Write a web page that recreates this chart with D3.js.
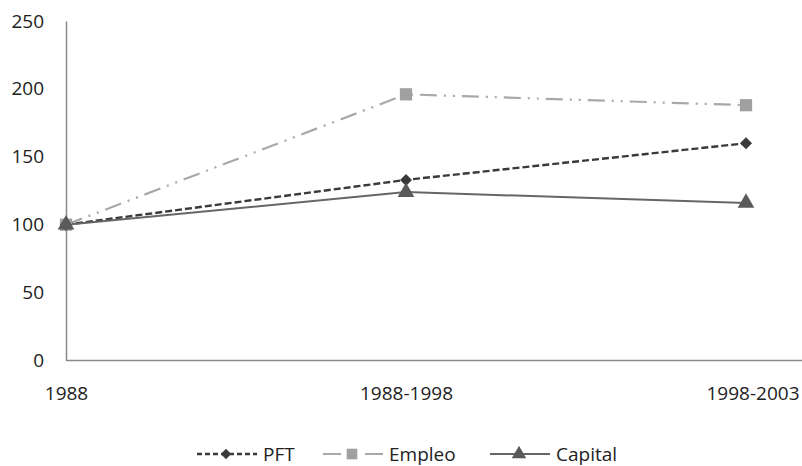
<!DOCTYPE html>
<html><head><meta charset="utf-8">
<script src="https://cdn.jsdelivr.net/npm/d3@7"></script>
<style>body{margin:0;background:#fff}svg{display:block}text{font-family:"Open Sans","Noto Sans",sans-serif;fill:#222}</style>
</head><body><svg id="c" width="802" height="466"></svg>
<script>
const categories = ["1988", "1988-1998", "1998-2003"];
const pft = [100, 133, 160];
const empleo = [100, 196, 188];
const capital = [100, 124, 116];
const yTicks = [0, 50, 100, 150, 200, 250];

const series = [
  {name: "PFT", values: pft, color: "#3a3a3a", marker: "diamond", dash: "7,3", width: 2.4, mcolor: "#3a3a3a", legDash: "5,3"},
  {name: "Empleo", values: empleo, color: "#a8a8a8", marker: "square", dash: "17,7,2,7,2,7", width: 2.2, mcolor: "#a0a0a0", legDash: "18,24,18"},
  {name: "Capital", values: capital, color: "#666666", marker: "triangle", dash: null, width: 2, mcolor: "#5a5a5a", legDash: null}
];

const svg = d3.select("#c");
const x = d3.scalePoint().domain(categories).range([66, 746]).padding(0);
const y = d3.scaleLinear().domain([0, 250]).range([360.5, 21]);

const symbolOf = {diamond: d3.symbolSquare, square: d3.symbolSquare, triangle: d3.symbolTriangle};
const sizeOf = {diamond: 72, square: 150, triangle: 120};
const rotOf = {diamond: 45, square: 0, triangle: 0};

// axes
const yAxis = svg.append("g").attr("transform", "translate(66,0)")
  .call(d3.axisLeft(y).tickValues(yTicks).tickSize(0).tickPadding(22));
yAxis.select(".domain").attr("stroke", "#8a8a8a").attr("stroke-width", 1.5);
yAxis.selectAll("text").attr("font-size", 19).style("fill", "#222");

const xAxis = svg.append("g").attr("transform", "translate(0,360.5)")
  .call(d3.axisBottom(x).tickSize(0).tickPadding(26));
xAxis.select(".domain").attr("stroke", "#8a8a8a").attr("stroke-width", 1.5).attr("d", "M66,0H802");
xAxis.selectAll("text").attr("font-size", 19).style("fill", "#222")
  .attr("text-anchor", (d, i) => i === categories.length - 1 ? "end" : "middle")
  .attr("dx", (d, i) => i === categories.length - 1 ? 53 : 0);

const line = d3.line().x((d, i) => x(categories[i])).y(d => y(d));

const order = [series[1], series[0], series[2]];
order.forEach(s => {
  svg.append("path").datum(s.values).attr("d", line)
    .attr("fill", "none").attr("stroke", s.color).attr("stroke-width", s.width)
    .attr("stroke-dasharray", s.dash);
});
order.forEach(s => {
  svg.append("g").selectAll("path").data(s.values).join("path")
    .attr("transform", (d, i) => `translate(${x(categories[i])},${y(d)}) rotate(${rotOf[s.marker]})`)
    .attr("d", d3.symbol().type(symbolOf[s.marker]).size(sizeOf[s.marker]))
    .attr("fill", s.mcolor);
});

// legend
const legendX = [197, 323, 490];
const leg = svg.append("g");
series.forEach((s, i) => {
  const g = leg.append("g").attr("transform", `translate(${legendX[i]},454)`);
  g.append("line").attr("x1", 0).attr("x2", 60).attr("y1", 0).attr("y2", 0)
    .attr("stroke", s.color).attr("stroke-width", s.width)
    .attr("stroke-dasharray", s.legDash);
  g.append("path").attr("transform", `translate(29,0) rotate(${rotOf[s.marker]})`)
    .attr("d", d3.symbol().type(symbolOf[s.marker]).size(sizeOf[s.marker] * 0.75))
    .attr("fill", s.mcolor);
  g.append("text").attr("x", 66).attr("y", 0).attr("dy", "0.35em")
    .attr("font-size", 19).text(s.name);
});
</script></body></html>
